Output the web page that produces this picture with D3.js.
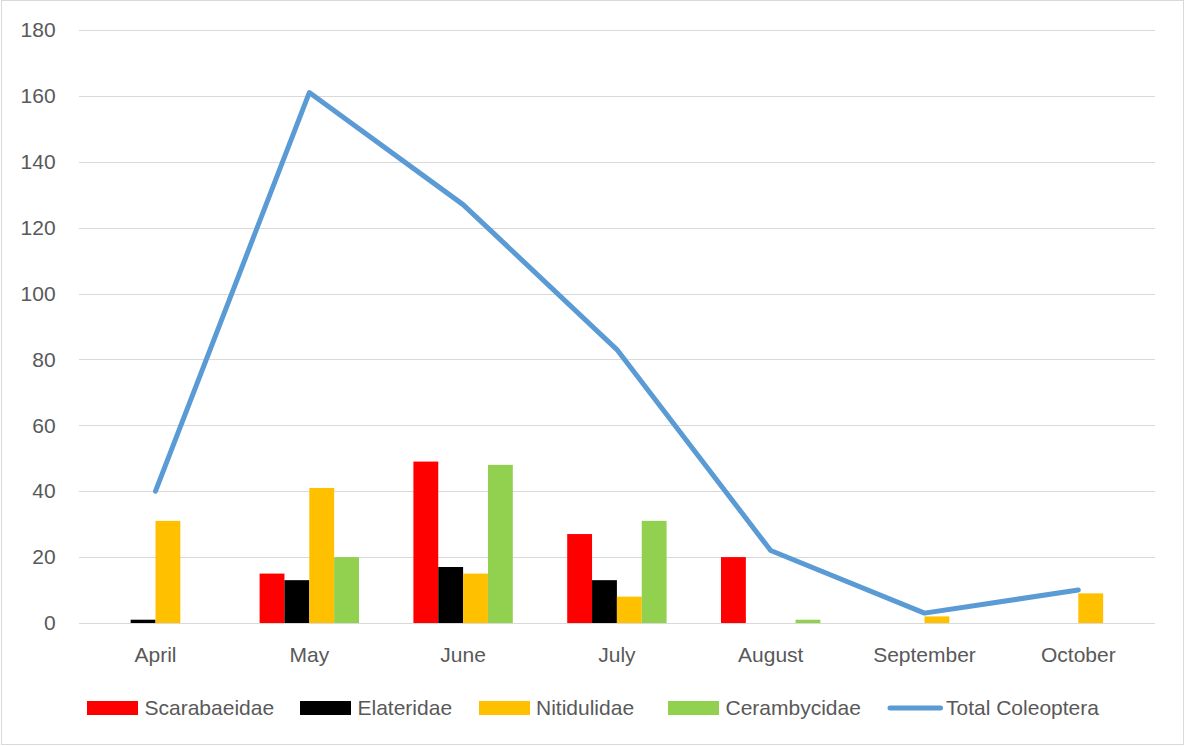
<!DOCTYPE html>
<html>
<head>
<meta charset="utf-8">
<script src="https://cdn.jsdelivr.net/npm/d3@7/dist/d3.min.js"></script>
<style>
  html, body { margin: 0; padding: 0; background: #fff; }
  svg { display: block; }
  text { font-family: "Liberation Sans", Arial, sans-serif; fill: #595959; }
</style>
</head>
<body>
<svg id="chart" width="1185" height="746"></svg>
<script>
// Monthly catches of beetle families
const months = ["April", "May", "June", "July", "August", "September", "October"];
const families = ["Scarabaeidae", "Elateridae", "Nitidulidae", "Cerambycidae"];
const scarabaeidae = [0, 15, 49, 27, 20, 0, 0];
const elateridae   = [1, 13, 17, 13, 0, 0, 0];
const nitidulidae  = [31, 41, 15, 8, 0, 2, 9];
const cerambycidae = [0, 20, 48, 31, 1, 0, 0];
const totalColeoptera = [40, 161, 127, 83, 22, 3, 10];
const yTicks = [0, 20, 40, 60, 80, 100, 120, 140, 160, 180];
const lineName = "Total Coleoptera";

const seriesValues = [scarabaeidae, elateridae, nitidulidae, cerambycidae];
const colors = ["#ff0000", "#000000", "#ffc000", "#92d050"];
const lineColor = "#5b9bd5";
const fontSize = 21;
const fontFamily = "'Liberation Sans', Arial, sans-serif";

const svg = d3.select("#chart");
const W = 1185, H = 746;

// outer frame
svg.append("rect")
  .attr("x", 1.5).attr("y", 0.5)
  .attr("width", W - 3).attr("height", H - 2)
  .attr("fill", "#fff").attr("stroke", "#d9d9d9").attr("stroke-width", 1);

const plot = { left: 78.6, right: 1155.2, top: 30, bottom: 623 };

const x = d3.scaleBand().domain(months).range([plot.left, plot.right]).padding(0);
const gapRatio = 2.19;
const groupW = x.bandwidth() * families.length / (families.length + gapRatio);
const x1 = d3.scaleBand().domain(families)
  .range([(x.bandwidth() - groupW) / 2, (x.bandwidth() + groupW) / 2]).padding(0);
const y = d3.scaleLinear().domain([0, 180]).range([plot.bottom, plot.top]);

// horizontal gridlines
const yAxis = d3.axisLeft(y).tickValues(yTicks)
  .tickSize(-(plot.right - plot.left)).tickPadding(23).tickFormat(d3.format("d"));
const gy = svg.append("g").attr("transform", `translate(${plot.left},0)`).call(yAxis);
gy.select(".domain").remove();
gy.selectAll(".tick line").attr("stroke", "#d9d9d9").attr("stroke-width", 1)
  .attr("shape-rendering", "crispEdges");
gy.selectAll(".tick text").attr("font-size", fontSize).attr("fill", "#595959")
  .attr("font-family", fontFamily);

// month labels
const xAxis = d3.axisBottom(x).tickSize(0).tickPadding(24);
const gx = svg.append("g").attr("transform", `translate(0,${plot.bottom})`).call(xAxis);
gx.select(".domain").remove();
gx.selectAll(".tick text").attr("font-size", fontSize).attr("fill", "#595959")
  .attr("font-family", fontFamily);

// bars
const groups = svg.append("g").selectAll("g")
  .data(months).join("g")
  .attr("transform", d => `translate(${x(d)},0)`);
groups.selectAll("rect")
  .data((m, i) => families.map((f, k) => ({ f, k, v: seriesValues[k][i] })))
  .join("rect")
  .attr("x", d => x1(d.f))
  .attr("width", x1.bandwidth())
  .attr("y", d => y(d.v))
  .attr("height", d => y(0) - y(d.v))
  .attr("fill", d => colors[d.k]);

// total line
const line = d3.line()
  .x((d, i) => x(months[i]) + x.bandwidth() / 2)
  .y(d => y(d));
svg.append("path")
  .datum(totalColeoptera)
  .attr("d", line)
  .attr("fill", "none")
  .attr("stroke", lineColor)
  .attr("stroke-width", 5)
  .attr("stroke-linejoin", "round")
  .attr("stroke-linecap", "round");

// legend
const legendY = 708;
const legendItems = [
  { name: families[0], color: colors[0], x: 87, tx: 144.5, type: "bar" },
  { name: families[1], color: colors[1], x: 300, tx: 357.5, type: "bar" },
  { name: families[2], color: colors[2], x: 479, tx: 536, type: "bar" },
  { name: families[3], color: colors[3], x: 668, tx: 725.5, type: "bar" },
  { name: lineName, color: lineColor, x: 887.5, tx: 946, type: "line" }
];
const lg = svg.append("g");
legendItems.forEach(it => {
  if (it.type === "bar") {
    lg.append("rect").attr("x", it.x).attr("y", legendY - 7)
      .attr("width", 51).attr("height", 14).attr("fill", it.color);
  } else {
    lg.append("line").attr("x1", it.x + 2.5).attr("x2", it.x + 53)
      .attr("y1", legendY).attr("y2", legendY)
      .attr("stroke", it.color).attr("stroke-width", 5).attr("stroke-linecap", "round");
  }
  lg.append("text").attr("x", it.tx).attr("y", legendY)
    .attr("dy", "0.35em").attr("font-size", fontSize)
    .attr("font-family", fontFamily).text(it.name);
});
</script>
</body>
</html>
